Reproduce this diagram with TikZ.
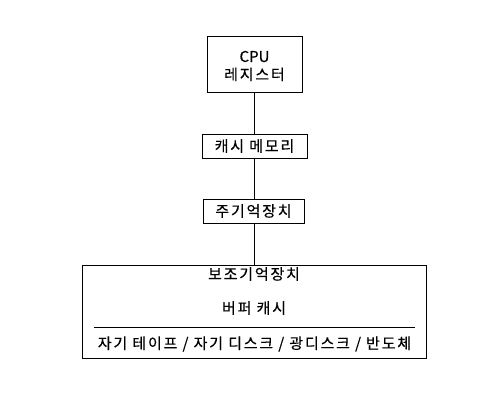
\documentclass[tikz,border=0pt]{standalone}
\usepackage{fontspec}
\setmainfont{Noto Sans CJK KR}[LetterSpace=12,FakeBold=0.4]
\newfontfamily\latinfont{Noto Sans CJK KR}[FakeBold=0.4]
\begin{document}
\begin{tikzpicture}[x=1pt,y=-1pt,
  box/.style={draw=black,line width=1pt,inner sep=0pt,anchor=center},
  lbl/.style={inner sep=0pt,anchor=center,font=\fontsize{15}{18}\selectfont},
  conn/.style={line width=1pt}]
\useasboundingbox (0,0) rectangle (502,404);
\node[box,minimum width=95pt,minimum height=55pt] (cpu) at (254.5,64.5) {};
\node[lbl,align=center] (cputext) at (254.5,66) {{\latinfont CPU}\\레지스터};
\node[box,minimum width=105pt,minimum height=24pt,lbl] (cache) at (254.5,146) {캐시 메모리};
\node[box,minimum width=101pt,minimum height=24pt,lbl] (main) at (253.5,211) {주기억장치};
\node[box,minimum width=344pt,minimum height=93pt] (aux) at (254,311.5) {};
\node[lbl] (auxtitle) at (254,274) {보조기억장치};
\node[lbl] (buffer) at (254,308) {버퍼 캐시};
\node[lbl] (media) at (254.5,344) {자기 테이프 / 자기 디스크 / 광디스크 / 반도체};
\coordinate (sepL) at (94,327);
\coordinate (sepR) at (415,327);
\draw[line width=0.8pt] (sepL) -- (sepR);
\draw[conn] (cpu.south) -- (cache.north);
\draw[conn] (cache.south) -- (main.north -| cache.south);
\draw[conn] (main.south -| cache.south) -- (aux.north -| cache.south);
\end{tikzpicture}
\end{document}
